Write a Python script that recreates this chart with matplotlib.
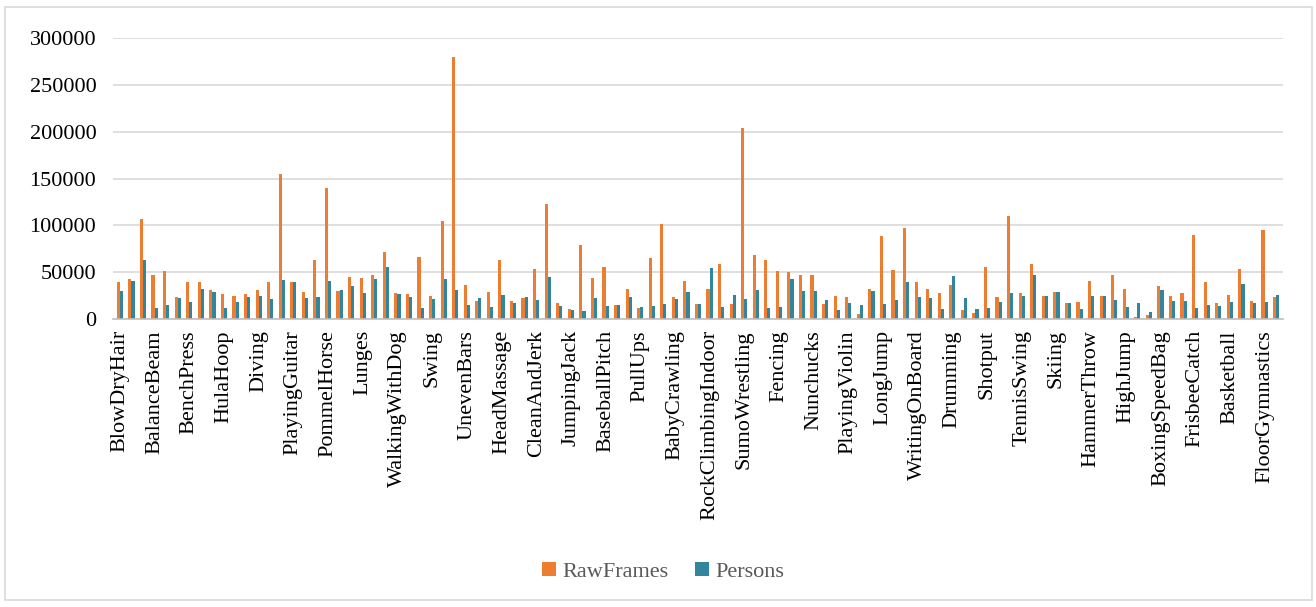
import matplotlib
matplotlib.use("Agg")
import matplotlib.pyplot as plt
import numpy as np

raw_frames = [40000, 43000, 107000, 47000, 51000, 23000, 39000, 40000, 31000, 27000,
              25000, 27000, 31000, 39000, 155000, 40000, 29000, 63000, 140000, 29500,
              45000, 44000, 47500, 72000, 28000, 27000, 66000, 25000, 105000, 280000,
              36000, 19000, 29000, 63000, 19600, 22000, 53500, 123000, 17000, 11000,
              78500, 44000, 56000, 15000, 31500, 12000, 64600, 101000, 24000, 41000,
              16000, 31500, 59000, 15700, 204000, 68000, 63000, 51000, 50000, 47000,
              47000, 16400, 25000, 24000, 5000, 32000, 89000, 52000, 97000, 39000,
              32000, 27500, 36000, 10000, 6400, 55000, 24000, 110000, 27500, 59000,
              24600, 29000, 17000, 18000, 41000, 25000, 47000, 32000, 2500, 4000,
              35000, 24600, 27500, 90000, 40000, 17000, 26000, 53000, 19000, 95000,
              24000]
persons = [30000, 41000, 62500, 12000, 15000, 22500, 18000, 32000, 29000, 12000,
           18000, 23000, 25000, 21000, 42000, 39000, 22000, 24000, 41000, 30500,
           35000, 28000, 42500, 56000, 26600, 23000, 12000, 21000, 42500, 31000,
           15000, 22500, 13000, 26000, 17000, 23000, 20000, 44600, 13500, 10000,
           9000, 22500, 14000, 15000, 23000, 12500, 13500, 15700, 21000, 29000,
           16000, 54000, 12500, 26000, 21000, 31000, 12000, 13000, 43000, 30000,
           29600, 20000, 10000, 17000, 15000, 29600, 16400, 20000, 39000, 23000,
           22500, 11000, 46000, 22500, 11000, 12000, 18600, 28000, 25000, 47000,
           24600, 28600, 17500, 11000, 25000, 25000, 20000, 13000, 17000, 7500,
           31000, 19000, 19000, 11400, 15000, 13600, 18000, 37000, 17000, 18000,
           26000]
tick_labels = ["BlowDryHair", "BalanceBeam", "BenchPress", "HulaHoop", "Diving",
               "PlayingGuitar", "PommelHorse", "Lunges", "WalkingWithDog", "Swing",
               "UnevenBars", "HeadMassage", "CleanAndJerk", "JumpingJack", "BaseballPitch",
               "PullUps", "BabyCrawling", "RockClimbingIndoor", "SumoWrestling", "Fencing",
               "Nunchucks", "PlayingViolin", "LongJump", "WritingOnBoard", "Drumming",
               "Shotput", "TennisSwing", "Skiing", "HammerThrow", "HighJump",
               "BoxingSpeedBag", "FrisbeeCatch", "Basketball", "FloorGymnastics"]
y_ticks = [0, 50000, 100000, 150000, 200000, 250000, 300000]

plt.rcParams['font.family'] = ['Liberation Serif', 'DejaVu Serif']

W, H = 1316, 607
fig = plt.figure(figsize=(W / 100, H / 100), dpi=100)
fig.patches.append(plt.Rectangle((5 / W, 7 / H), (1312 - 5) / W, (600 - 7) / H,
                                 transform=fig.transFigure, fill=False,
                                 edgecolor='#d9d9d9', linewidth=1.2))

ax = fig.add_axes([113 / W, 1 - 319 / H, (1283 - 113) / W, (319 - 38) / H])
x = np.arange(len(raw_frames))
bw = 0.27
orange = '#ED7D31'
teal = '#31859C'
ax.bar(x - bw / 2, raw_frames, width=bw, color=orange, label='RawFrames', zorder=3)
ax.bar(x + bw / 2, persons, width=bw, color=teal, label='Persons', zorder=3)

ax.set_xlim(-0.6, len(raw_frames) - 0.4)
ax.set_ylim(0, 300000)
ax.set_yticks(y_ticks)
ax.set_yticklabels([str(v) for v in y_ticks], fontsize=16, color='black')
ax.yaxis.grid(True, color='#d9d9d9', linewidth=1.2, zorder=0)
ax.set_axisbelow(True)
ax.tick_params(axis='y', length=0, pad=12)

ax.set_xticks(np.arange(0, len(raw_frames), 3))
ax.set_xticklabels(tick_labels, rotation=90, fontsize=16, color='black')
ax.tick_params(axis='x', length=0, pad=8)

for s in ['top', 'right', 'left']:
    ax.spines[s].set_visible(False)
ax.spines['bottom'].set_color('#bfbfbf')
ax.spines['bottom'].set_linewidth(1.2)
ax.spines['bottom'].set_zorder(4)

leg = fig.legend(loc='center', bbox_to_anchor=(0.504, 1 - 572 / H), ncol=2,
                 frameon=False, fontsize=16, handlelength=0.6, handleheight=0.6,
                 handletextpad=0.3, columnspacing=1.2)
for t in leg.get_texts():
    t.set_color('#595959')

fig.savefig('out.png', dpi=100)
